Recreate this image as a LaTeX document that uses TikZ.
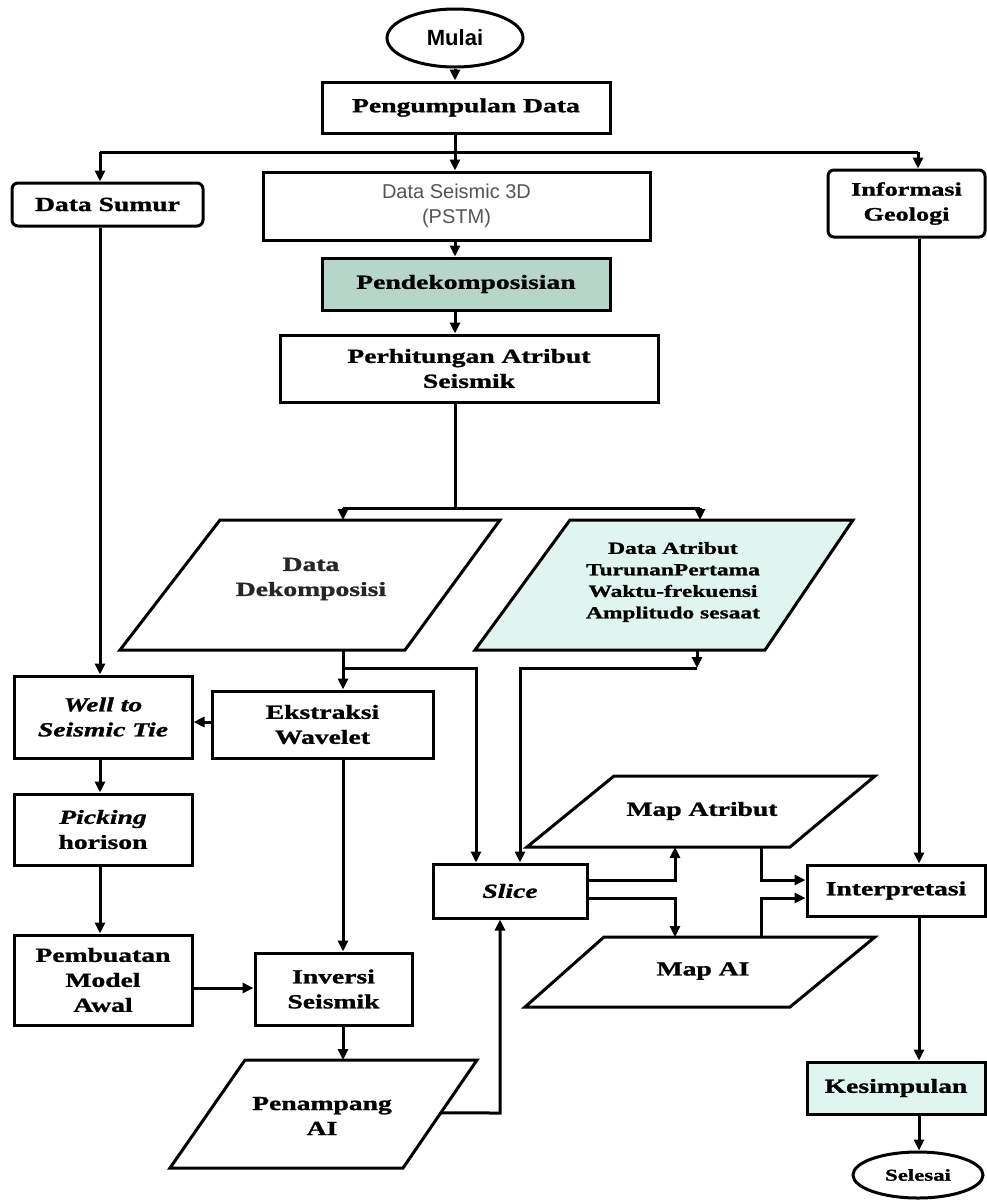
\documentclass[tikz,border=0pt]{standalone}
\usepackage{fontspec}
\setmainfont{Liberation Serif}[FakeStretch=1.38, BoldFeatures={FakeBold=1.2}, BoldItalicFeatures={FakeBold=1.2}]
\newfontfamily\seisfont{Liberation Sans}
\usetikzlibrary{shapes.geometric,arrows.meta,calc}
\definecolor{tealfill}{RGB}{181,214,201}
\definecolor{cyanfill}{RGB}{224,245,239}
\definecolor{seisgray}{RGB}{85,85,85}
\begin{document}
\begin{tikzpicture}[x=1pt,y=-1pt,
  lw/.style={line width=3pt},
  box/.style={draw, lw, fill=white, align=center, inner sep=0pt, font=\fontsize{20}{25}\selectfont\bfseries},
  rbox/.style={box, rounded corners=6pt},
  arr/.style={lw, -{Triangle[length=11pt,width=10pt]}},
  ln/.style={lw},
  para/.style={draw, lw, line join=miter, fill=white},
  ptext/.style={align=center, inner sep=0pt, font=\fontsize{20}{25}\selectfont\bfseries}]
\useasboundingbox (0,0) rectangle (987,1200);

% ---------- boxes ----------
\node[box, ellipse, minimum width=136pt, minimum height=58pt, font=\seisfont\fontsize{22}{24}\selectfont\bfseries] (mulai) at (455,38) {Mulai};
\node[box, minimum width=288pt, minimum height=51pt] (peng) at (466,107.5) {Pengumpulan Data};
\node[rbox, minimum width=191pt, minimum height=43pt] (sumur) at (107.5,204.5) {Data Sumur};
\node[box, minimum width=387pt, minimum height=68pt, font=\seisfont\fontsize{20}{25}\selectfont, text=seisgray] (seis) at (456.5,206) {Data Seismic 3D\\(PSTM)};
\node[rbox, minimum width=157pt, minimum height=67pt, font=\fontsize{19}{25}\selectfont\bfseries] (info) at (906.5,203.5) {Informasi\\Geologi};
\node[box, fill=tealfill, minimum width=288pt, minimum height=52pt] (pendek) at (466,284) {Pendekomposisian};
\node[box, minimum width=378pt, minimum height=67pt] (perhit) at (469,368.5) {Perhitungan Atribut\\Seismik};
\node[box, minimum width=178pt, minimum height=82pt] (welltie) at (103,717) {\itshape Well to\\\itshape Seismic Tie};
\node[box, minimum width=221pt, minimum height=67pt] (ekstr) at (322.5,724.5) {Ekstraksi\\Wavelet};
\node[box, minimum width=178pt, minimum height=71pt] (picking) at (103,829.5) {\itshape Picking\\horison};
\node[box, minimum width=178pt, minimum height=90pt] (pemb) at (103,980) {Pembuatan\\Model\\Awal};
\node[box, minimum width=157pt, minimum height=72pt] (inv) at (333.5,989) {Inversi\\Seismik};
\node[box, minimum width=154pt, minimum height=54pt] (slice) at (510,891) {\itshape Slice};
\node[box, minimum width=178pt, minimum height=51pt] (interp) at (896,890.5) {Interpretasi};
\node[box, fill=cyanfill, minimum width=178pt, minimum height=52pt] (kesim) at (896,1088) {Kesimpulan};
\node[box, ellipse, minimum width=130pt, minimum height=46pt, font=\fontsize{16.5}{18}\selectfont\bfseries] (selesai) at (918,1175) {Selesai};

% ---------- parallelograms ----------
\coordinate (dd-tl) at (220,520); \coordinate (dd-tr) at (500,520);
\coordinate (dd-br) at (405,650); \coordinate (dd-bl) at (120,650);
\draw[para] (dd-tl) -- (dd-tr) -- (dd-br) -- (dd-bl) -- cycle;
\node[ptext, text=black!85] (ddt) at (311,579) {Data\\Dekomposisi};

\coordinate (da-tl) at (570,520); \coordinate (da-tr) at (853,520);
\coordinate (da-br) at (765,650); \coordinate (da-bl) at (475,650);
\draw[para, fill=cyanfill] (da-tl) -- (da-tr) -- (da-br) -- (da-bl) -- cycle;
\node[ptext, font=\fontsize{17}{21.5}\selectfont\bfseries] (dat) at (673,582) {Data Atribut\\TurunanPertama\\Waktu-frekuensi\\Amplitudo sesaat};

\coordinate (ma-tl) at (614,776); \coordinate (ma-tr) at (875,776);
\coordinate (ma-br) at (790,847); \coordinate (ma-bl) at (527,847);
\draw[para] (ma-tl) -- (ma-tr) -- (ma-br) -- (ma-bl) -- cycle;
\node[ptext] (mat) at (702,811) {Map Atribut};

\coordinate (mai-tl) at (604,937); \coordinate (mai-tr) at (875,937);
\coordinate (mai-br) at (790,1007); \coordinate (mai-bl) at (525,1007);
\draw[para] (mai-tl) -- (mai-tr) -- (mai-br) -- (mai-bl) -- cycle;
\node[ptext] (mait) at (703,971) {Map AI};

\coordinate (pa-tl) at (245,1060); \coordinate (pa-tr) at (477,1060);
\coordinate (pa-br) at (403,1168); \coordinate (pa-bl) at (170,1168);
\draw[para] (pa-tl) -- (pa-tr) -- (pa-br) -- (pa-bl) -- cycle;
\node[ptext] (pat) at (322,1116) {Penampang\\AI};

% ---------- helper coordinates ----------
\coordinate (cx) at (455,0);
\coordinate (sx) at (100,0);
\coordinate (ix) at (919,0);
\coordinate (j1) at (455,152); \coordinate (j1l) at (100,152); \coordinate (j1r) at (918,152);
\coordinate (j2) at (455,508); \coordinate (j2l) at (343,508); \coordinate (j2r) at (700,508);
\coordinate (j3) at (343,668); \coordinate (j3r) at (476,668);
\coordinate (j4) at (697,668); \coordinate (j4l) at (520,668);
\coordinate (ey) at (0,722);
\coordinate (py) at (0,988);
\coordinate (pe) at ($(pa-tr)!0.49!(pa-br)$);
\coordinate (pk) at (500,1113);
\coordinate (s1) at (675,880); \coordinate (s2) at (675,898);
\coordinate (m1) at (761,880); \coordinate (m2) at (761,898);

% ---------- connectors ----------
\draw[arr] (mulai.south) -- (mulai.south |- peng.north);
\draw[ln] (peng.south -| cx) -- (j1);
\draw[ln] (j1l) -- (j1r);
\draw[arr] (j1l) -- (j1l |- sumur.north);
\draw[arr] (j1) -- (j1 |- seis.north);
\draw[arr] (j1r) -- (j1r |- info.north);
\draw[arr] (seis.south -| cx) -- (pendek.north -| cx);
\draw[arr] (pendek.south -| cx) -- (perhit.north -| cx);
\draw[ln] (perhit.south -| cx) -- (j2);
\draw[ln] (j2l) -- (j2r);
\draw[arr] (j2l) -- (j2l |- dd-tl);
\draw[arr] (j2r) -- (j2r |- da-tl);

\draw[arr] (j3 |- dd-bl) -- (j3 |- ekstr.north);
\draw[arr] (j3) -- (j3r) -- (j3r |- slice.north);
\draw[arr] (j4 |- da-bl) -- (j4);
\draw[arr] (j4) -- (j4l) -- (j4l |- slice.north);

\draw[arr] (sumur.south -| sx) -- (welltie.north -| sx);
\draw[arr] (ekstr.west |- ey) -- (welltie.east |- ey);
\draw[arr] (welltie.south -| sx) -- (picking.north -| sx);
\draw[arr] (picking.south -| sx) -- (pemb.north -| sx);
\draw[arr] (pemb.east |- py) -- (inv.west |- py);
\draw[arr] (ekstr.south -| j3) -- (inv.north -| j3);
\draw[arr] (inv.south -| j3) -- (j3 |- pa-tl);
\draw[arr] (pe) -- (pk) -- (pk |- slice.south);

\draw[arr] (slice.east |- s1) -- (s1) -- (s1 |- ma-bl);
\draw[arr] (slice.east |- s2) -- (s2) -- (s2 |- mai-tl);
\draw[arr] (m1 |- ma-bl) -- (m1) -- (interp.west |- m1);
\draw[arr] (m2 |- mai-tl) -- (m2) -- (interp.west |- m2);

\draw[arr] (info.south -| ix) -- (interp.north -| ix);
\draw[arr] (interp.south -| ix) -- (kesim.north -| ix);
\draw[arr] (kesim.south -| ix) -- (selesai.north -| ix);
\end{tikzpicture}
\end{document}
